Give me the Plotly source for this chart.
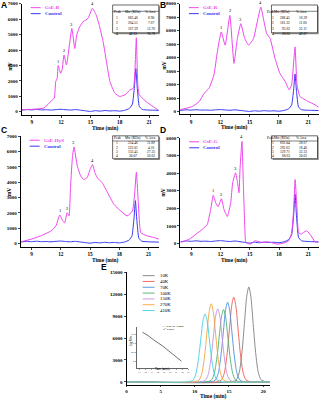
import plotly.graph_objects as go

# ---------------- data ----------------
a_time = [8.0, 10.25, 11.0, 11.3, 11.45, 11.6, 11.7, 11.95, 12.1, 12.3, 12.55, 13.1, 13.4, 13.6, 13.9, 14.25, 14.75,
          15.2, 15.6, 15.9, 16.3, 16.7, 17.0, 17.5, 18.0, 18.55, 19.05, 19.4, 19.55, 19.7, 19.85, 20.0, 20.7, 21.4, 21.9]
a_mv = [130, 240, 700, 880, 1950, 2170, 2990, 2490, 2710, 3680, 3030, 5390, 4100, 4970, 5500, 5830, 6040,
        6700, 6260, 5610, 4540, 3030, 1950, 1200, 990, 1100, 1420, 1520, 2600, 4790, 1740, 1100, 660, 340, 130]

b_time = [7.9, 9.15, 9.85, 10.35, 10.85, 11.35, 11.7, 12.1, 12.5, 12.98, 13.4, 13.75, 14.1, 14.5, 14.9, 15.4, 15.85,
          16.15, 16.55, 16.75, 17.1, 17.6, 18.1, 18.65, 19.05, 19.3, 19.65, 19.85, 20.15, 21.0, 21.7, 22.1]
b_mv = [150, 390, 760, 1370, 1740, 2720, 4440, 5910, 4930, 7130, 3580, 5420, 6520, 5420, 4930, 5420, 6890,
        7750, 6400, 5780, 5420, 3950, 2840, 2230, 1620, 1990, 4800, 1990, 1130, 760, 510, 320]

c_time = [7.9, 8.95, 9.95, 11.0, 11.5, 11.9, 12.2, 12.4, 12.65, 12.85, 13.0, 13.2, 13.35, 13.7, 14.05, 14.35, 14.7,
          15.0, 15.25, 15.5, 15.75, 16.25, 16.8, 17.45, 18.15, 18.8, 19.35, 19.55, 19.75, 19.95, 20.2, 20.85, 21.55, 22.05]
c_mv = [110, 280, 500, 820, 1150, 1860, 1470, 1360, 2010, 1800, 3740, 5690, 6300, 5040, 4390, 4180, 4290,
        4830, 5150, 4610, 4290, 3960, 3310, 2550, 2120, 1800, 2120, 3100, 4650, 2660, 710, 500, 390, 280]

d_time = [7.9, 8.8, 9.5, 10.15, 10.65, 11.0, 11.25, 11.5, 11.75, 12.1, 12.35, 12.7, 13.05, 13.25, 13.55, 13.75, 13.9,
          14.0, 14.2, 14.35, 14.5, 14.6, 15.05, 15.55, 16.25, 16.95, 17.8, 18.5, 19.0, 19.3, 19.5, 19.65, 19.85, 20.0,
          20.3, 20.5, 20.85, 21.3, 21.7, 22.05]
d_mv = [60, 240, 530, 810, 1090, 1940, 2730, 2320, 2090, 2540, 1940, 1530, 2320, 3450, 4010, 3450, 2880,
        4200, 5800, 3260, 810, 60, -40, 150, 60, 90, -40, 20, 150, 620, 1940, 3630, 1940, 620,
        530, 620, 720, 430, 90, 60]

ctrl_time = [7.9, 8.5, 9.0, 9.5, 10.0, 10.5, 11.0, 11.5, 12.0, 12.5, 13.0, 13.5, 14.0, 14.5, 15.0, 15.5, 16.0, 16.5,
             17.0, 17.5, 18.0, 18.5, 19.0, 19.3, 19.5, 19.65, 19.8, 20.0, 20.3, 21.0, 22.1]
ctrl_mv = [100, 140, 120, 150, 120, 130, 110, 140, 160, 130, 110, 140, 100, 60, 20, 70, 40, 80,
           50, 70, 40, 90, 220, 500, 1600, 2800, 1500, 350, 150, 110, 90]

sample_names = ["GsE-B", "GsE-R", "GsE-HyS", "GsE-G"]
peak_times = [[11.7, 12.3, 13.1, 15.2], [12.1, 12.98, 14.1, 16.15], [11.9, 12.65, 13.35, 15.25], [11.25, 12.1, 13.55, 14.2]]
peak_mv = [[2990, 3680, 5390, 6700], [5910, 7130, 6520, 7750], [1860, 2010, 6300, 5150], [2730, 2540, 4010, 5800]]

table_header = ["Peak", "Mw (KDa)", "% Area"]
table_mw = [["682.46", "264.51", "167.39", "48.63"], ["288.45", "181.32", "95.62", "28.62"],
            ["254.46", "222.01", "133.45", "30.07"], ["692.04", "292.63", "129.71", "68.63"]]
table_area = [["8.90", "7.67", "12.76", "70.78"], ["16.39", "11.66", "22.11", "49.87"],
              ["11.89", "4.16", "27.35", "56.62"], ["28.67", "18.46", "32.32", "20.62"]]

std_labels = ["10K", "40K", "70K", "100K", "150K", "270K", "410K"]
std_colors = ["#7f7f7f", "#ee5a4f", "#4a8fe0", "#4caf6a", "#c58ee0", "#f2a33a", "#3fd0de"]
std_times = [
    [0, 15.5, 16.1, 16.5, 16.9, 17.3, 17.6, 17.9, 18.2, 18.5, 18.9, 19.3, 19.7, 20.3, 21],
    [0, 13.3, 13.9, 14.3, 14.7, 15.1, 15.4, 15.7, 16.0, 16.3, 16.7, 17.1, 17.5, 18.1, 21],
    [0, 12.4, 13.0, 13.4, 13.8, 14.2, 14.5, 14.8, 15.1, 15.4, 15.8, 16.2, 16.6, 17.2, 21],
    [0, 11.8, 12.4, 12.8, 13.2, 13.6, 13.9, 14.2, 14.5, 14.8, 15.2, 15.6, 16.0, 16.6, 21],
    [0, 10.95, 11.55, 11.95, 12.35, 12.75, 13.05, 13.35, 13.65, 13.95, 14.35, 14.75, 15.15, 15.75, 21],
    [0, 10.0, 10.6, 11.0, 11.4, 11.8, 12.1, 12.4, 12.7, 13.0, 13.4, 13.8, 14.2, 14.8, 21],
    [0, 9.1, 9.7, 10.1, 10.5, 10.9, 11.2, 11.5, 11.8, 12.1, 12.5, 12.9, 13.3, 13.9, 21],
]
std_values = [
    [0, 20, 290, 1270, 4030, 8450, 11700, 13000, 11700, 8450, 4030, 1270, 290, 20, 0],
    [0, 20, 250, 1140, 3600, 7540, 10440, 11600, 10440, 7540, 3600, 1140, 250, 20, 0],
    [0, 15, 240, 1070, 3380, 7090, 9810, 10900, 9810, 7090, 3380, 1070, 240, 15, 0],
    [0, 15, 220, 970, 3070, 6440, 8910, 9900, 8910, 6440, 3070, 970, 220, 15, 0],
    [0, 15, 220, 980, 3100, 6500, 9000, 10000, 9000, 6500, 3100, 980, 220, 15, 0],
    [0, 15, 235, 1050, 3320, 6960, 9630, 10700, 9630, 6960, 3320, 1050, 235, 15, 0],
    [0, 15, 205, 910, 2880, 6050, 8370, 9300, 8370, 6050, 2880, 910, 205, 15, 0],
]
cal_time = [11.5, 12.4, 13.35, 14.2, 14.8, 15.7, 17.9]
cal_logmw = [5.61, 5.43, 5.18, 5.00, 4.85, 4.60, 4.00]

# ---------------- layout helpers ----------------
W, H = 321, 400
def px(x): return x / W
def py(y): return 1 - y / H

MAG = "#ee45ee"
BLU = "#3838f2"
SERIF = "Liberation Serif"
SANS = "Liberation Sans"

fig = go.Figure()
layout = dict(width=W, height=H, margin=dict(l=0, r=0, t=0, b=0), showlegend=False,
              paper_bgcolor="white", plot_bgcolor="white")
shapes, annos = [], []

def axis_style(**kw):
    d = dict(showline=True, linecolor="black", linewidth=1, ticks="outside", ticklen=2, tickwidth=1,
             showgrid=False, zeroline=False, exponentformat="none", ticklabeloverflow="allow",
             tickfont=dict(family=SERIF, size=5, color="black", weight="bold"))
    d.update(kw)
    return d

panels = [
    dict(xd=(21, 159.3), yd=(1.7, 113.4), xr=[7.98, 22.0], yr=[-200, 7000], t=a_time, v=a_mv,
         letter=(0, 3.5), table=(112.7, 159.3, 3, 31)),
    dict(xd=(180.7, 320.5), yd=(1.7, 113.0), xr=[7.88, 22.05], yr=[-200, 8000], t=b_time, v=b_mv,
         letter=(160.5, 3.5), table=(273, 319.5, 3, 31)),
    dict(xd=(20, 159.3), yd=(134.9, 245.8), xr=[7.9, 22.05], yr=[-200, 7000], t=c_time, v=c_mv,
         letter=(0, 128.5), table=(112.7, 159.3, 134.5, 157.5)),
    dict(xd=(181, 320.5), yd=(136.5, 246.2), xr=[7.88, 22.05], yr=[-200, 6000], t=d_time, v=d_mv,
         letter=(160.5, 128.5), table=(273, 319.5, 134.5, 157.5)),
]

for i, p in enumerate(panels):
    k = i + 1
    xa, ya = ("x" if k == 1 else f"x{k}"), ("y" if k == 1 else f"y{k}")
    layout["xaxis" if k == 1 else f"xaxis{k}"] = axis_style(
        domain=[px(p["xd"][0]), px(p["xd"][1])], range=p["xr"], anchor=ya,
        tickvals=[9, 12, 15, 18, 21], tickfont=dict(family=SERIF, size=5.3, color="black", weight="bold"))
    layout["yaxis" if k == 1 else f"yaxis{k}"] = axis_style(
        domain=[py(p["yd"][1]), py(p["yd"][0])], range=p["yr"], anchor=xa, dtick=1000, tick0=0, tickformat="d")
    fig.add_trace(go.Scatter(x=ctrl_time, y=ctrl_mv, mode="lines", xaxis=xa, yaxis=ya,
                             line=dict(color=BLU, width=1, shape="spline", smoothing=0.4)))
    fig.add_trace(go.Scatter(x=p["t"], y=p["v"], mode="lines", xaxis=xa, yaxis=ya,
                             line=dict(color=MAG, width=1, shape="spline", smoothing=0.4)))
    for j in range(4):
        annos.append(dict(x=peak_times[i][j], y=peak_mv[i][j], xref=xa, yref=ya, text=str(j + 1),
                          showarrow=False, yanchor="bottom", yshift=0,
                          font=dict(family=SERIF, size=4.5, color="black")))
    # panel letter
    annos.append(dict(x=px(p["letter"][0]), y=py(p["letter"][1]), xref="paper", yref="paper", text="<b>%s</b>" % "ABCD"[i],
                      showarrow=False, xanchor="left", yanchor="middle", xshift=-2,
                      font=dict(family=SANS, size=8.5, color="black")))
    # axis titles
    x0, x1 = p["xd"]
    y0, y1 = p["yd"]
    annos.append(dict(x=px((x0 + x1) / 2), y=py(y1 + 13.6), xref="paper", yref="paper", text="<b>Time (min)</b>",
                      showarrow=False, yanchor="middle", font=dict(family=SERIF, size=5.5, color="black")))
    annos.append(dict(x=px(x0 - 17), y=py((y0 + y1) / 2), xref="paper", yref="paper", text="<b>mV</b>", textangle=-90,
                      showarrow=False, font=dict(family=SERIF, size=5.5, color="black")))
    # legend (manual)
    for r, (nm, col) in enumerate([(sample_names[i], MAG), ("Control", BLU)]):
        ly = y0 + 4 + r * 6
        shapes.append(dict(type="line", xref="paper", yref="paper", x0=px(x0 + 9), x1=px(x0 + 19),
                           y0=py(ly), y1=py(ly), line=dict(color=col, width=1)))
        annos.append(dict(x=px(x0 + 21), y=py(ly), xref="paper", yref="paper", text="<b>%s</b>" % nm,
                          showarrow=False, xanchor="left", yanchor="middle",
                          font=dict(family=SERIF, size=5, color=col)))
    # table
    tx0, tx1, ty0, ty1 = p["table"]
    shapes.append(dict(type="rect", xref="paper", yref="paper", x0=px(tx0 + 1.3), x1=px(min(tx1 + 1.3, 321)),
                       y0=py(ty1 + 1.3), y1=py(ty0 + 1.3), fillcolor="#999999", line=dict(width=0)))
    shapes.append(dict(type="rect", xref="paper", yref="paper", x0=px(tx0), x1=px(tx1),
                       y0=py(ty1), y1=py(ty0), fillcolor="white", line=dict(color="black", width=0.6)))
    rh = (ty1 - ty0) / 5.3
    shapes.append(dict(type="line", xref="paper", yref="paper", x0=px(tx0), x1=px(tx1),
                       y0=py(ty0 + rh * 1.2), y1=py(ty0 + rh * 1.2), line=dict(color="black", width=0.5)))
    tw = tx1 - tx0
    cols = [tx0 + tw * 0.1, tx0 + tw * 0.45, tx0 + tw * 0.82]
    for c, h in enumerate(table_header):
        annos.append(dict(x=px(cols[c]), y=py(ty0 + rh * 0.6), xref="paper", yref="paper", text=h,
                          showarrow=False, font=dict(family=SERIF, size=3.5, color="black")))
    for r in range(4):
        yy = py(ty0 + rh * (1.75 + r))
        for c, txt in enumerate([str(r + 1), table_mw[i][r], table_area[i][r]]):
            annos.append(dict(x=px(cols[c]), y=yy, xref="paper", yref="paper", text=txt, showarrow=False,
                              font=dict(family=SERIF, size=3.5, color="black")))

# ---------------- panel E ----------------
layout["xaxis5"] = axis_style(domain=[px(126.7), px(271.5)], range=[0, 21], anchor="y5", tickvals=[0, 5, 10, 15, 20],
                              ticklen=1.5)
layout["yaxis5"] = axis_style(domain=[py(384.5), py(271.7)], range=[-382, 15000], anchor="x5",
                              tickvals=[0, 3000, 6000, 9000, 12000, 15000], tickformat="d")
for lab, col, tt, vv in zip(std_labels, std_colors, std_times, std_values):
    fig.add_trace(go.Scatter(x=tt, y=vv, mode="lines", xaxis="x5", yaxis="y5",
                             line=dict(color=col, width=0.9, shape="spline", smoothing=0.8)))
for r, (lab, col) in enumerate(zip(std_labels, std_colors)):
    ly = 275 + r * 5.85
    shapes.append(dict(type="line", xref="paper", yref="paper", x0=px(143), x1=px(155), y0=py(ly), y1=py(ly),
                       line=dict(color=col, width=0.9)))
    annos.append(dict(x=px(158), y=py(ly), xref="paper", yref="paper", text=lab, showarrow=False, xanchor="left",
                      yanchor="middle", font=dict(family=SERIF, size=4.8, color="black")))
annos.append(dict(x=px(99), y=py(266), xref="paper", yref="paper", text="<b>E</b>", showarrow=False,
                  xanchor="left", yanchor="middle", font=dict(family=SANS, size=8.5, color="black")))
annos.append(dict(x=px(229), y=py(396), xref="paper", yref="paper", text="<b>Time (min)</b>", showarrow=False,
                  yanchor="middle", font=dict(family=SERIF, size=5.5, color="black")))

# inset calibration plot
small = dict(family=SERIF, size=2.5, color="black")
layout["xaxis6"] = axis_style(domain=[px(136.7), px(189)], range=[10.5, 19], anchor="y6", dtick=1, ticklen=1,
                              linewidth=0.6, tickwidth=0.5, tickfont=small)
layout["yaxis6"] = axis_style(domain=[py(368.3), py(326.7)], range=[3.6, 5.9], anchor="x6", dtick=0.5, ticklen=1,
                              linewidth=0.6, tickwidth=0.5, tickfont=small)
fig.add_trace(go.Scatter(x=cal_time, y=cal_logmw, mode="lines", xaxis="x6", yaxis="y6",
                         line=dict(color="#333333", width=0.7)))
annos.append(dict(x=px(162), y=py(333), xref="paper", yref="paper", text="y=-0.2510x+8.4920<br>R²=0.9965",
                  showarrow=False, xanchor="left", align="left", font=dict(family=SERIF, size=2.6, color="black")))
annos.append(dict(x=px(131.5), y=py(347), xref="paper", yref="paper", text="log Mw", textangle=-90,
                  showarrow=False, font=dict(family=SERIF, size=3, color="black")))
annos.append(dict(x=px(163), y=py(373), xref="paper", yref="paper", text="Time (min)",
                  showarrow=False, font=dict(family=SERIF, size=3, color="black")))

layout["shapes"] = shapes
layout["annotations"] = annos
fig.update_layout(**layout)
fig.write_html("out.html", config={"displayModeBar": False, "staticPlot": True},
               post_script="document.body.style.margin='0';document.body.style.overflow='hidden';")
